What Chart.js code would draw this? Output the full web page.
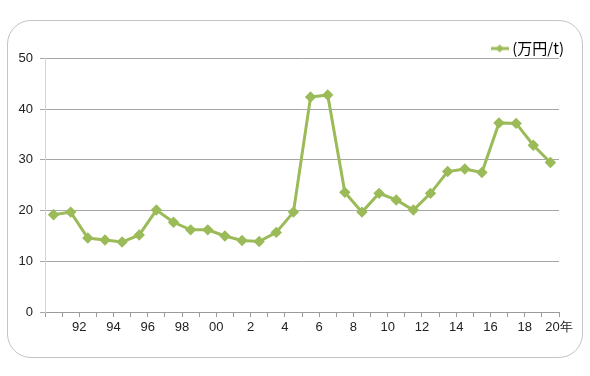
<!DOCTYPE html>
<html>
<head>
<meta charset="utf-8">
<script src="https://cdn.jsdelivr.net/npm/chart.js@4/dist/chart.umd.min.js"></script>
<style>
  html, body { margin: 0; padding: 0; background: #fff; }
  #wrap { position: relative; width: 590px; height: 376px; }
  #frame {
    position: absolute; left: 7px; top: 20px; width: 576px; height: 338px;
    border: 1.5px solid #c4c4c4; border-radius: 24px; box-sizing: border-box;
  }
  #plotCanvas { position: absolute; left: 0; top: 0; }
</style>
</head>
<body>
<div id="wrap">
  <div id="frame"></div>
  <canvas id="plotCanvas" width="590" height="376"></canvas>
</div>
<script>
// one value per year, 1990 .. 2019 (万円/t)
const years = [1990, 1991, 1992, 1993, 1994, 1995, 1996, 1997, 1998, 1999,
               2000, 2001, 2002, 2003, 2004, 2005, 2006, 2007, 2008, 2009,
               2010, 2011, 2012, 2013, 2014, 2015, 2016, 2017, 2018, 2019];
const prices = [19.2, 19.7, 14.6, 14.2, 13.8, 15.2, 20.1, 17.7, 16.2, 16.2,
                15.0, 14.1, 13.9, 15.7, 19.7, 42.4, 42.8, 23.6, 19.7, 23.4,
                22.1, 20.1, 23.4, 27.7, 28.2, 27.5, 37.3, 37.2, 32.9, 29.5];
// labels sit on the year boundaries 1992, 1994, ... 2020
const xTickLabels = ['92', '94', '96', '98', '00', '2', '4', '6', '8', '10',
                     '12', '14', '16', '18', '20年'];
const yTicks = [0, 10, 20, 30, 40, 50];
const seriesLabel = '(万円/t)';

const green = '#9bbb59';
const font = { family: '"Liberation Sans", Arial, sans-serif', size: 13 };
const legendFont = { family: '"Noto Sans CJK JP", "Noto Sans", sans-serif', size: 15 };

// little line + diamond used as the legend symbol
const legendIcon = document.createElement('canvas');
legendIcon.width = 18; legendIcon.height = 10;
(function () {
    const c = legendIcon.getContext('2d');
    c.strokeStyle = green; c.lineWidth = 3;
    c.beginPath(); c.moveTo(0, 5); c.lineTo(18, 5); c.stroke();
    c.fillStyle = green;
    c.beginPath(); c.moveTo(9, 1); c.lineTo(13, 5); c.lineTo(9, 9); c.lineTo(5, 5); c.closePath(); c.fill();
})();

// nudge the legend a bit lower/right than chart.js puts it
const legendNudge = {
    id: 'legendNudge',
    afterLayout(ch) {
        const lg = ch.legend;
        if (!lg) return;
        lg.top += 7.5; lg.bottom += 7.5;
        lg.left += 5; lg.right += 5;
    }
};

const points = prices.map((v, i) => ({ x: years[i] - years[0] + 0.5, y: v }));

const ctx = document.getElementById('plotCanvas');

const chart = new Chart(ctx, {
    type: 'line',
    data: {
        datasets: [{
            label: seriesLabel,
            data: points,
            borderColor: green,
            backgroundColor: green,
            borderWidth: 3,
            pointStyle: 'rectRot',
            pointRadius: 3.6,
            pointHoverRadius: 3.6,
            tension: 0
        }]
    },
    plugins: [legendNudge],
    options: {
        responsive: false,
        animation: false,
        layout: { padding: { left: 0, right: 31, top: 33.5, bottom: 34 } },
        plugins: {
            tooltip: { enabled: false },
            legend: {
                position: 'top',
                align: 'end',
                labels: {
                    font: legendFont,
                    color: '#222',
                    usePointStyle: true,
                    pointStyleWidth: 10,
                    padding: 0,
                    generateLabels: (ch) => [{
                        text: seriesLabel,
                        pointStyle: legendIcon,
                        fillStyle: green,
                        strokeStyle: green,
                        lineWidth: 0,
                        datasetIndex: 0
                    }]
                }
            }
        },
        scales: {
            x: {
                type: 'linear',
                min: 0,
                max: years.length,
                afterBuildTicks: (s) => { s.ticks = years.concat([years[years.length - 1] + 1]).map((y, i) => ({ value: i })); },
                afterFit: (s) => { s.height = 30; },
                grid: { drawOnChartArea: false, drawTicks: true, tickLength: 5, color: '#9a9a9a' },
                border: { color: '#9a9a9a', width: 1 },
                ticks: {
                    autoSkip: false,
                    maxRotation: 0,
                    padding: 3,
                    font: font,
                    color: '#222',
                    callback: (v) => (v >= 2 && v % 2 === 0) ? xTickLabels[(v - 2) / 2] : ''
                }
            },
            y: {
                min: 0,
                max: 50,
                afterBuildTicks: (s) => { s.ticks = yTicks.map(v => ({ value: v })); },
                afterFit: (s) => { s.width = 45; },
                grid: { color: '#a6a6a6', tickLength: 5 },
                border: { color: '#d4d4d4', width: 1 },
                ticks: { padding: 7, font: font, color: '#222' }
            }
        }
    }
});
</script>
</body>
</html>
